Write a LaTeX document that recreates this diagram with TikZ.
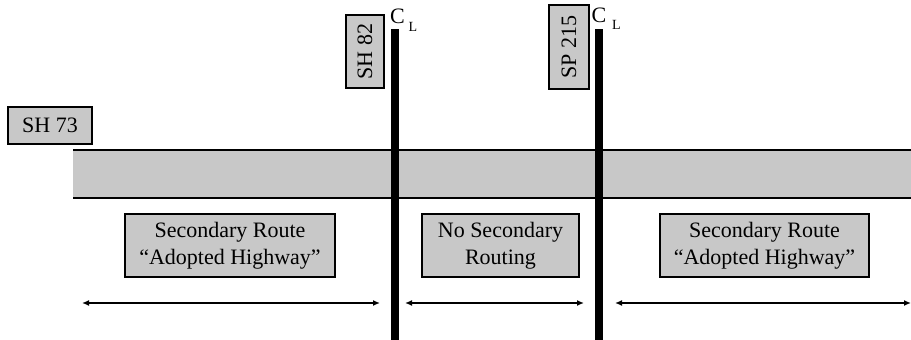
\documentclass[tikz,border=0pt]{standalone}
\usepackage{fontspec}
\setmainfont{Liberation Serif}
\usetikzlibrary{arrows.meta}
\definecolor{roadgray}{HTML}{C8C8C8}
\tikzset{
  label box/.style={draw=black, line width=1.4pt, fill=roadgray, inner sep=0pt,
    align=center, font=\fontsize{22}{27}\selectfont},
  route tag/.style={label box, rotate=90},
  centerline/.style={line width=8pt, black},
  extent/.style={line width=1.6pt, {Latex[length=7pt,width=6pt]}-{Latex[length=7pt,width=6pt]}},
  cl letter/.style={inner sep=0pt, font=\fontsize{22}{22}\selectfont},
  cl sub/.style={inner sep=0pt, font=\fontsize{14}{14}\selectfont}
}
\begin{document}
\begin{tikzpicture}[x=1pt,y=-1pt]
\useasboundingbox (0,0) rectangle (911,340);

% the highway band
\fill[roadgray] (73,150) rectangle (911,198);
\draw[line width=1.4pt] (73,150) -- (911,150);
\draw[line width=1.4pt] (73,198) -- (911,198);

% route tags
\node[label box, minimum width=84pt, minimum height=37pt] (sh73) at (50,125.5) {SH 73};
\node[route tag, minimum width=73pt, minimum height=38pt] (sh82) at (365,51.5) {SH 82};
\node[route tag, minimum width=84pt, minimum height=40pt] (sp215) at (569,47) {SP 215};

% centerlines of the crossing routes
\coordinate (cl1top) at (395,29);
\coordinate (cl1bot) at (395,340);
\coordinate (cl2top) at (599,29);
\coordinate (cl2bot) at (599,340);
\draw[centerline] (cl1top) -- (cl1bot);
\draw[centerline] (cl2top) -- (cl2bot);
\node[cl letter] (c1) at (397.5,16.5) {C};
\node[cl sub] (l1) at (413,27) {L};
\node[cl letter] (c2) at (599,15) {C};
\node[cl sub] (l2) at (616.5,25) {L};

% segment descriptions
\node[label box, minimum width=210pt, minimum height=63pt] (segA) at (230,245.5)
  {Secondary Route\\``Adopted Highway''};
\node[label box, minimum width=157pt, minimum height=63pt] (segB) at (500.5,245.5)
  {No Secondary\\Routing};
\node[label box, minimum width=209pt, minimum height=63pt] (segC) at (764.5,245.5)
  {Secondary Route\\``Adopted Highway''};

% segment extents
\coordinate (a1) at (82,303);
\coordinate (a2) at (380,303);
\coordinate (b1) at (405,303);
\coordinate (b2) at (584,303);
\coordinate (c1e) at (615,303);
\coordinate (c2e) at (911,303);
\draw[extent] (a1) -- (a2);
\draw[extent] (b1) -- (b2);
\draw[extent] (c1e) -- (c2e);
\end{tikzpicture}
\end{document}
